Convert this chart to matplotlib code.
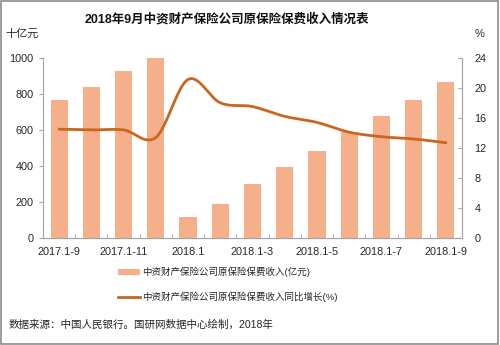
import numpy as np
import matplotlib
matplotlib.use("Agg")
import matplotlib.pyplot as plt
from matplotlib.lines import Line2D
from matplotlib.patches import Patch, Rectangle

plt.rcParams['font.family'] = ['Liberation Sans', 'Noto Sans CJK SC']

categories = ['2017.1-9', '2017.1-10', '2017.1-11', '2017.1-12', '2018.1', '2018.1-2',
              '2018.1-3', '2018.1-4', '2018.1-5', '2018.1-6', '2018.1-7', '2018.1-8', '2018.1-9']
income = [767, 837, 924, 1000, 120, 189, 300, 393, 485, 591, 678, 767, 863]
growth = [14.5, 14.4, 14.4, 13.4, 21.1, 18.0, 17.5, 16.2, 15.4, 14.1, 13.5, 13.2, 12.7]
left_ticks = [0, 200, 400, 600, 800, 1000]
right_ticks = [0, 4, 8, 12, 16, 20, 24]

title = '2018年9月中资财产保险公司原保险保费收入情况表'
label_bar = '中资财产保险公司原保险保费收入(亿元)'
label_line = '中资财产保险公司原保险保费收入同比增长(%)'
source = '数据来源：中国人民银行。国研网数据中心绘制，2018年'

bar_color = '#F5B08B'
line_color = '#C96620'
spine_color = '#A6A6A6'
text_color = '#262626'


def catmull_rom(x, y, n=20):
    x = np.asarray(x, float)
    y = np.asarray(y, float)
    px = np.concatenate([[2 * x[0] - x[1]], x, [2 * x[-1] - x[-2]]])
    py = np.concatenate([[2 * y[0] - y[1]], y, [2 * y[-1] - y[-2]]])
    xs, ys = [], []
    t = np.linspace(0, 1, n, endpoint=False)
    for i in range(1, len(px) - 2):
        p0, p1, p2, p3 = py[i - 1], py[i], py[i + 1], py[i + 2]
        q0, q1, q2, q3 = px[i - 1], px[i], px[i + 1], px[i + 2]
        ys.append(0.5 * ((2 * p1) + (-p0 + p2) * t + (2 * p0 - 5 * p1 + 4 * p2 - p3) * t ** 2 + (-p0 + 3 * p1 - 3 * p2 + p3) * t ** 3))
        xs.append(0.5 * ((2 * q1) + (-q0 + q2) * t + (2 * q0 - 5 * q1 + 4 * q2 - q3) * t ** 2 + (-q0 + 3 * q1 - 3 * q2 + q3) * t ** 3))
    xs.append([x[-1]])
    ys.append([y[-1]])
    return np.concatenate(xs), np.concatenate(ys)


fig = plt.figure(figsize=(5.0, 3.45), dpi=100)
ax = fig.add_axes([0.086, 0.309, 0.838, 0.524])
ax2 = ax.twinx()

x = np.arange(len(categories))
ax.bar(x, income, width=0.53, color=bar_color, zorder=2)
sx, sy = catmull_rom(x, growth)
ax2.plot(sx, sy, color=line_color, lw=2.0, solid_capstyle='round', zorder=3)

ax.set_xlim(-0.5, len(categories) - 0.5)
ax.set_ylim(0, 1000)
ax2.set_ylim(0, 24)
ax.set_yticks(left_ticks)
ax2.set_yticks(right_ticks)

ax.set_xticks(x[::2])
ax.set_xticklabels(categories[::2])
ax.set_xticks(np.arange(len(categories) + 1) - 0.5, minor=True)
ax.tick_params(axis='x', which='major', length=0, pad=6, labelsize=7.8, colors=text_color)
ax.tick_params(axis='x', which='minor', length=3, direction='in', color=spine_color)
ax.tick_params(axis='y', length=3, direction='out', color=spine_color, labelsize=7.8,
               labelcolor=text_color, pad=4)
ax2.tick_params(axis='y', length=3, direction='in', color=spine_color, labelsize=7.8,
                labelcolor=text_color, pad=9)

for a in (ax, ax2):
    a.spines['top'].set_visible(False)
    for s in ('left', 'right', 'bottom'):
        a.spines[s].set_color(spine_color)
        a.spines[s].set_linewidth(0.8)

fig.text(0.454, 0.943, title, ha='center', va='center', fontsize=9, fontweight='bold', color='#111111')
fig.text(0.01, 0.901, '十亿元', ha='left', va='center', fontsize=8, color=text_color)
fig.text(0.95, 0.901, '%', ha='left', va='center', fontsize=8, color=text_color)

handles = [Patch(facecolor=bar_color, edgecolor='none'),
           Line2D([0], [0], color=line_color, lw=2)]
fig.legend(handles, [label_bar, label_line], loc='upper left',
           bbox_to_anchor=(0.236, 0.226), frameon=False, fontsize=6.8,
           borderaxespad=0, borderpad=0,
           handlelength=2.3, handleheight=0.5, handletextpad=0.2, labelspacing=1.45,
           labelcolor=text_color)

fig.text(0.018, 0.058, source, ha='left', va='center', fontsize=7.6, color=text_color)

fig.patches.append(Rectangle((0.002, 0.004), 0.994, 0.993, transform=fig.transFigure,
                             fill=False, edgecolor='#8C8C8C', lw=1.2))

fig.savefig('out.png', dpi=100)
